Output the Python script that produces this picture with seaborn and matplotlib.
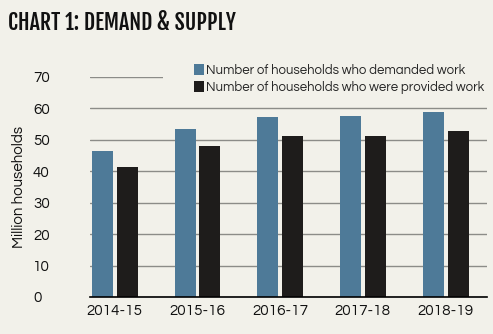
import matplotlib
matplotlib.use("Agg")
import matplotlib.pyplot as plt
import seaborn as sns
import pandas as pd
from matplotlib.patches import Rectangle, Patch
from matplotlib import font_manager

years = ["2014-15", "2015-16", "2016-17", "2017-18", "2018-19"]
demanded = [46.6, 53.5, 57.2, 57.6, 58.8]
provided = [41.4, 48.1, 51.2, 51.2, 52.7]
series_names = ["Number of households who demanded work",
                "Number of households who were provided work"]
yticks = [0, 10, 20, 30, 40, 50, 60, 70]
title = "CHART 1: DEMAND & SUPPLY"

BG = "#F2F1EA"
BLUE = "#4E7A98"
BLACK = "#1E1C1B"

fonts = font_manager.fontManager.ttflist
def pick(cands, weight=400):
    for c in cands:
        if any(f.name == c and f.weight == weight and f.style == "normal" for f in fonts):
            return c
    return None

body_font = pick(["Questrial", "Lato", "Open Sans"]) or "DejaVu Sans"
title_font = pick(["Fjalla One", "Bebas Neue", "Oswald"]) or "DejaVu Sans"

sns.set_theme(style="white")
plt.rcParams['font.family'] = [body_font, 'DejaVu Sans']
plt.rcParams['font.weight'] = 'normal'

df = pd.DataFrame({
    "year": years * 2,
    "value": demanded + provided,
    "series": [series_names[0]] * len(years) + [series_names[1]] * len(years),
})

fig = plt.figure(figsize=(4.93, 3.34), dpi=100, facecolor=BG)
ax = fig.add_axes([90 / 493, 1 - 297 / 334, (487 - 90) / 493, (297 - 77) / 334])
ax.set_facecolor(BG)

sns.barplot(data=df, x="year", y="value", hue="series",
            palette=[BLUE, BLACK], width=0.6, gap=0.15, saturation=1,
            linewidth=0, ax=ax, legend=False, zorder=3)

ax.set_ylim(0, 70)
ax.set_xlim(-0.30, 4.5)
ax.set_yticks(yticks)
ax.set_yticklabels([str(t) for t in yticks], ha="left")
ax.yaxis.grid(True, color="#8C8C88", linewidth=1.0, zorder=0)
ax.set_axisbelow(True)
for s in ["left", "right", "top"]:
    ax.spines[s].set_visible(False)
ax.spines["bottom"].set_color("black")
ax.spines["bottom"].set_linewidth(1.2)
ax.spines["bottom"].set_zorder(4)
ax.tick_params(axis="y", length=0, pad=41, labelsize=11, labelcolor="#111111")
ax.tick_params(axis="x", length=0, pad=5, labelsize=11, labelcolor="#111111")
ax.set_xlabel("")
ax.set_ylabel("Million households", fontsize=10.8, color="#111111")

# cover gridline behind legend
fig.patches.append(Rectangle((163 / 493, 1 - 100 / 334), (491 - 163) / 493, 38 / 334,
                             transform=fig.transFigure, facecolor=BG,
                             edgecolor="none", zorder=1))

handles = [Patch(facecolor=BLUE, edgecolor="none"), Patch(facecolor=BLACK, edgecolor="none")]

def make_legend(fs):
    return fig.legend(handles, series_names, loc="upper left",
                      bbox_to_anchor=(194 / 493, 1 - 64 / 334), frameon=False,
                      fontsize=fs, handlelength=0.75, handleheight=0.9, handletextpad=0.15,
                      labelspacing=0.3, borderaxespad=0, borderpad=0)

renderer = fig.canvas.get_renderer()
fs = 9.5
leg = make_legend(fs)
bb = leg.get_window_extent(renderer)
target = 487 - 194
fs = fs * target / bb.width
leg.remove()
leg = make_legend(fs)

t = fig.text(8 / 493, 1 - 22 / 334, title, family=[title_font, "DejaVu Sans"],
             fontsize=18, va="center", ha="left", color="#111111")
tb = t.get_window_extent(renderer)
t.set_fontsize(18 * 228 / tb.width)

ax.yaxis.set_label_coords((19 - 90) / 397, 0.5)
ax.yaxis.label.set_ha("center")
ax.yaxis.label.set_va("center")

fig.savefig("out.png", dpi=100, facecolor=BG)
